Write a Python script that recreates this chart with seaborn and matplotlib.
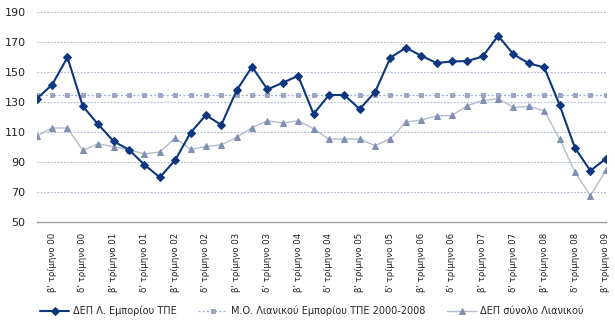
import matplotlib
matplotlib.use("Agg")
import matplotlib.pyplot as plt
import seaborn as sns
import pandas as pd
import numpy as np

quarters = [f"{q} τρίμηνο {y:02d}" for y in range(0, 10) for q in ["α'", "β'", "γ'", "δ'"]][:38]

dep_tpe = [132.0, 141.3, 159.6, 126.9, 114.9, 103.6, 98.0, 88.0, 79.6, 91.0,
           109.3, 121.1, 114.5, 137.6, 153.3, 138.2, 142.7, 147.3, 121.8, 134.5,
           134.5, 125.1, 136.5, 159.4, 166.0, 160.7, 155.8, 156.9, 157.1, 160.2,
           174.0, 161.6, 155.6, 152.9, 127.8, 99.1, 84.0, 92.0]
mean_val = 134.6
mo_lianikou = [mean_val] * 38
dep_synolo = [107.0, 112.5, 112.5, 97.5, 102.0, 100.0, 98.0, 95.2, 96.5, 105.8,
              98.2, 100.2, 101.3, 106.3, 112.7, 117.3, 115.8, 117.3, 112.0, 105.1,
              105.1, 105.1, 100.7, 105.4, 116.5, 117.8, 120.5, 120.9, 127.4, 130.9,
              132.0, 126.2, 126.9, 124.0, 105.1, 83.1, 67.3, 84.2]

names = ["ΔΕΠ Λ. Εμπορίου ΤΠΕ", "Μ.Ο. Λιανικού Εμπορίου ΤΠΕ 2000-2008", "ΔΕΠ σύνολο Λιανικού"]
yticks = [50, 70, 90, 110, 130, 150, 170, 190]

df = pd.DataFrame({"x": np.arange(len(quarters)), "q": quarters,
                   names[0]: dep_tpe, names[1]: mo_lianikou, names[2]: dep_synolo})

sns.set_style("white")
plt.rcParams['font.family'] = ['DejaVu Sans']

fig = plt.figure(figsize=(6.15, 3.27), dpi=100)
ax = fig.add_axes([0.0597, 0.322, 0.9253, 0.642])

for yv in yticks[1:]:
    ax.axhline(yv, color="#a9b5cf", lw=0.8, ls=(0, (1.5, 1.5)), zorder=0)

sns.lineplot(data=df, x="x", y=names[1], ax=ax, color="#a3b1cf", lw=1.0,
             linestyle=(0, (1.5, 1.5)), marker="s", markersize=3.5,
             markerfacecolor="#9aa6c2", markeredgecolor="#9aa6c2", label=names[1], zorder=2)
sns.lineplot(data=df, x="x", y=names[2], ax=ax, color="#b4bccb", lw=1.0,
             marker="^", markersize=5, markerfacecolor="#8090b2",
             markeredgecolor="#8090b2", label=names[2], zorder=3)
sns.lineplot(data=df, x="x", y=names[0], ax=ax, color="#0d3680", lw=1.5,
             marker="D", markersize=4.5, markerfacecolor="#0d3680",
             markeredgecolor="#0d3680", label=names[0], zorder=4)

ax.set_xlim(0, len(quarters) - 1)
ax.set_ylim(50, 190)
ax.set_yticks(yticks)
ax.set_yticklabels([str(v) for v in yticks], fontsize=8, color="#222222")
tick_idx = list(range(1, len(quarters), 2))
ax.set_xticks(tick_idx)
ax.set_xticklabels([quarters[i] for i in tick_idx], rotation=90, fontsize=6.2, color="#222222")
ax.tick_params(axis="x", length=0, pad=8)
ax.tick_params(axis="y", length=0, pad=8)
ax.set_xlabel("")
ax.set_ylabel("")
for s in ["top", "right", "left"]:
    ax.spines[s].set_visible(False)
ax.spines["bottom"].set_color("#a0a0a0")
ax.spines["bottom"].set_linewidth(1.0)

h, l = ax.get_legend_handles_labels()
ax.get_legend().remove()
order = [l.index(n) for n in names]
fig.legend([h[i] for i in order], [l[i] for i in order], loc="center",
           bbox_to_anchor=(0.507, 16 / 327), ncol=3, frameon=False, fontsize=7,
           handlelength=3, columnspacing=2.2, handletextpad=0.4)

fig.savefig("out.png", dpi=100)
